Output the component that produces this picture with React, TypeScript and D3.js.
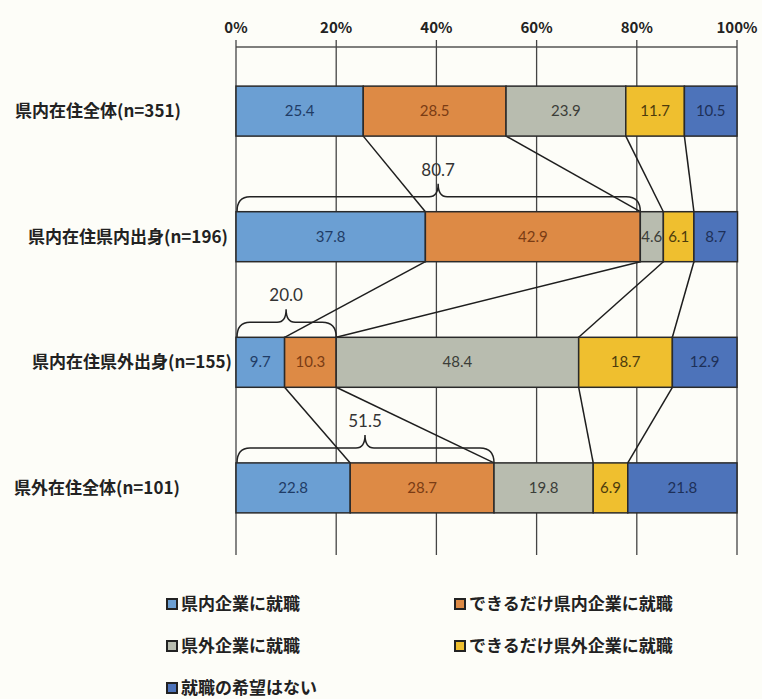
import React from "react";
import * as d3 from "d3";

const categories = [
  "県内在住全体(n=351)",
  "県内在住県内出身(n=196)",
  "県内在住県外出身(n=155)",
  "県外在住全体(n=101)",
];

const seriesNames = [
  "県内企業に就職",
  "できるだけ県内企業に就職",
  "県外企業に就職",
  "できるだけ県外企業に就職",
  "就職の希望はない",
];

// one row per category, one column per series
const values = [
  [25.4, 28.5, 23.9, 11.7, 10.5],
  [37.8, 42.9, 4.6, 6.1, 8.7],
  [9.7, 10.3, 48.4, 18.7, 12.9],
  [22.8, 28.7, 19.8, 6.9, 21.8],
];

// brackets: which row, summed over first two series
const bracketRows = [1, 2, 3];

const tickValues = [0, 20, 40, 60, 80, 100];

const fills = ["#6b9fd3", "#dd8a45", "#b8bcaf", "#efbf2f", "#4d73ba"];
const textFills = ["#1f3c66", "#7a3c14", "#3b3d38", "#4d3b0c", "#1d3058"];
const labelX = [15, 28, 32, 14];

const W = 762;
const H = 699;
const jp = "'Noto Sans CJK JP', sans-serif";
const num = "Lato, 'Open Sans', sans-serif";

export default function App() {
  const x = d3.scaleLinear().domain([0, 100]).range([236, 737]);
  const y = d3
    .scaleBand<string>()
    .domain(categories)
    .range([61, 538])
    .paddingInner(0.602)
    .paddingOuter(0.2);
  const bh = y.bandwidth();

  const stacks = values.map((row) => {
    const cum = d3.cumsum(row);
    return row.map((v, i) => ({ v, i, x0: cum[i] - v, x1: cum[i] }));
  });

  const connectors: { x1: number; y1: number; x2: number; y2: number }[] = [];
  for (let r = 0; r < values.length - 1; r++) {
    const a = d3.cumsum(values[r]);
    const b = d3.cumsum(values[r + 1]);
    for (let k = 0; k < 4; k++) {
      connectors.push({
        x1: x(a[k]),
        y1: (y(categories[r]) as number) + bh,
        x2: x(b[k]),
        y2: y(categories[r + 1]) as number,
      });
    }
  }

  const bracePath = (x0: number, x1: number, top: number) => {
    const by = top - 15;
    const cy = top - 28;
    const mid = (x0 + x1) / 2;
    return [
      `M${x0 + 1},${top}`,
      `Q${x0 + 1},${by} ${x0 + 14},${by}`,
      `L${mid - 9},${by}`,
      `Q${mid},${by} ${mid},${cy}`,
      `Q${mid},${by} ${mid + 9},${by}`,
      `L${x1 - 14},${by}`,
      `Q${x1},${by} ${x1},${top}`,
    ].join(" ");
  };

  const legendPos = [
    [167, 604],
    [455, 604],
    [167, 646],
    [455, 646],
    [167, 688],
  ];

  return (
    <svg
      width={W}
      height={H}
      style={{ position: "absolute", left: 0, top: 0, background: "#fdfdf8" }}
    >
      {/* top tick labels */}
      {tickValues.map((t) => (
        <text
          key={t}
          x={x(t)}
          y={33}
          textAnchor="middle"
          fontFamily={jp}
          fontWeight={700}
          fontSize={15}
          fill="#222"
        >
          {t}%
        </text>
      ))}
      <line x1={x(0)} x2={x(100)} y1={47} y2={47} stroke="#555" strokeWidth={1.5} />
      {/* gridlines */}
      {tickValues.map((t) => (
        <line
          key={t}
          x1={x(t)}
          x2={x(t)}
          y1={40}
          y2={555}
          stroke="#444"
          strokeWidth={1.3}
        />
      ))}
      {/* connectors */}
      {connectors.map((c, i) => (
        <line key={i} {...c} stroke="#1e1e1e" strokeWidth={1.5} />
      ))}
      {/* brackets */}
      {bracketRows.map((r) => {
        const top = y(categories[r]) as number;
        const total = values[r][0] + values[r][1];
        const x0 = x(0);
        const x1 = x(total);
        return (
          <g key={r}>
            <path d={bracePath(x0, x1, top)} fill="none" stroke="#222" strokeWidth={1.5} />
            <text
              x={(x0 + x1) / 2}
              y={top - 36}
              textAnchor="middle"
              fontFamily={num}
              fontSize={17}
              fill="#333"
            >
              {total.toFixed(1)}
            </text>
          </g>
        );
      })}
      {/* bars */}
      {stacks.map((row, r) => {
        const top = y(categories[r]) as number;
        return (
          <g key={r}>
            {row.map((s) => (
              <g key={s.i}>
                <rect
                  x={x(s.x0)}
                  y={top}
                  width={x(s.x1) - x(s.x0)}
                  height={bh}
                  fill={fills[s.i]}
                  stroke="#2a2a2a"
                  strokeWidth={1.5}
                />
                <text
                  x={(x(s.x0) + x(s.x1)) / 2}
                  y={top + bh / 2 + 5}
                  textAnchor="middle"
                  fontFamily={num}
                  fontSize={15}
                  fill={textFills[s.i]}
                >
                  {s.v.toFixed(1)}
                </text>
              </g>
            ))}
            <text
              x={labelX[r]}
              y={top + bh / 2 + 6}
              fontFamily={jp}
              fontWeight={700}
              fontSize={17}
              fill="#222"
            >
              {categories[r]}
            </text>
          </g>
        );
      })}
      {/* legend */}
      {seriesNames.map((name, i) => (
        <g key={name} transform={`translate(${legendPos[i][0]},${legendPos[i][1]})`}>
          <rect x={0} y={-5} width={10} height={10} fill={fills[i]} stroke="#222" strokeWidth={2} />
          <text x={14} y={6} fontFamily={jp} fontWeight={700} fontSize={17} fill="#222">
            {name}
          </text>
        </g>
      ))}
    </svg>
  );
}
